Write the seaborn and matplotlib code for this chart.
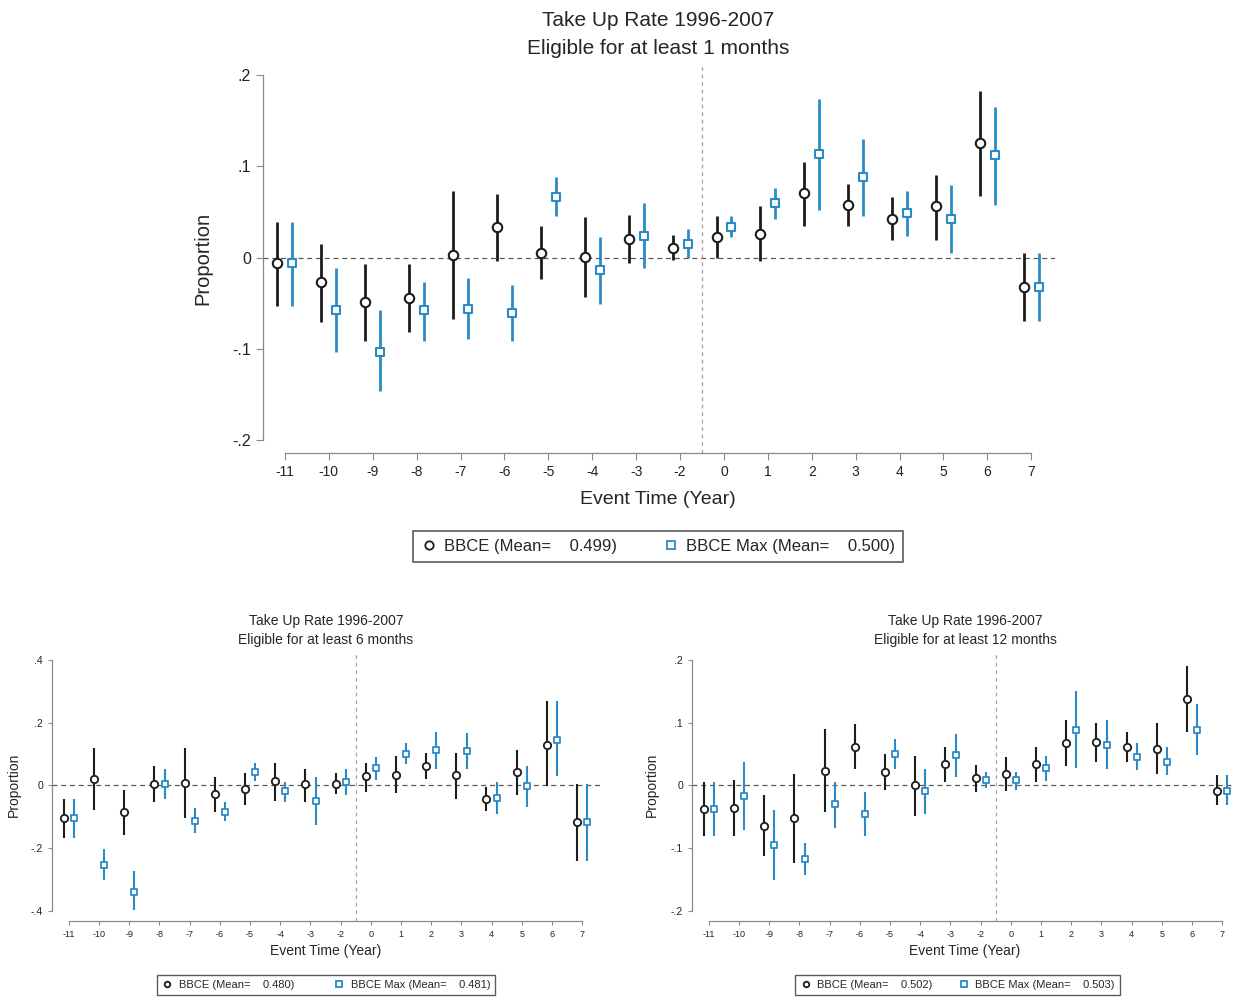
import numpy as np
import pandas as pd
import matplotlib
matplotlib.use("Agg")
import matplotlib.pyplot as plt
from matplotlib.lines import Line2D
import seaborn as sns

sns.set_theme(style="white")
plt.rcParams["font.family"] = ["Liberation Sans", "DejaVu Sans"]

# Event time (year -1 is the omitted reference year)
event_times = [-11, -10, -9, -8, -7, -6, -5, -4, -3, -2, 0, 1, 2, 3, 4, 5, 6, 7]

# Eligible for at least 1 month
bbce_1 = [-0.006, -0.027, -0.049, -0.044, 0.003, 0.033, 0.005, 0.001, 0.020, 0.011,
          0.023, 0.026, 0.071, 0.058, 0.042, 0.056, 0.125, -0.032]
bbce_1_lo = [-0.053, -0.071, -0.091, -0.082, -0.067, -0.004, -0.024, -0.043, -0.006, -0.003,
             0.000, -0.004, 0.035, 0.035, 0.019, 0.019, 0.067, -0.070]
bbce_1_hi = [0.039, 0.015, -0.007, -0.007, 0.073, 0.070, 0.035, 0.044, 0.047, 0.025,
             0.045, 0.057, 0.105, 0.081, 0.066, 0.091, 0.183, 0.005]
max_1 = [-0.006, -0.057, -0.103, -0.058, -0.056, -0.061, 0.066, -0.014, 0.024, 0.015,
         0.034, 0.060, 0.113, 0.088, 0.049, 0.042, 0.112, -0.032]
max_1_lo = [-0.053, -0.103, -0.146, -0.092, -0.089, -0.092, 0.045, -0.051, -0.012, -0.001,
            0.023, 0.042, 0.052, 0.046, 0.024, 0.005, 0.058, -0.070]
max_1_hi = [0.039, -0.011, -0.058, -0.027, -0.022, -0.030, 0.088, 0.022, 0.060, 0.031,
            0.046, 0.076, 0.174, 0.130, 0.073, 0.079, 0.165, 0.005]

# Eligible for at least 6 months
bbce_6 = [-0.104, 0.020, -0.085, 0.005, 0.007, -0.028, -0.012, 0.013, 0.004, 0.005,
          0.029, 0.034, 0.063, 0.032, -0.043, 0.043, 0.130, -0.117]
bbce_6_lo = [-0.168, -0.078, -0.159, -0.054, -0.104, -0.083, -0.062, -0.048, -0.053, -0.028,
             -0.022, -0.024, 0.020, -0.043, -0.080, -0.030, -0.003, -0.242]
bbce_6_hi = [-0.044, 0.119, -0.016, 0.063, 0.121, 0.026, 0.041, 0.073, 0.052, 0.039,
             0.073, 0.095, 0.105, 0.103, -0.005, 0.114, 0.268, 0.005]
max_6 = [-0.104, -0.253, -0.338, 0.005, -0.112, -0.083, 0.043, -0.019, -0.051, 0.011,
         0.055, 0.101, 0.112, 0.111, -0.040, -0.003, 0.146, -0.117]
max_6_lo = [-0.168, -0.301, -0.396, -0.044, -0.150, -0.113, 0.013, -0.054, -0.125, -0.030,
            0.018, 0.068, 0.052, 0.052, -0.090, -0.069, 0.029, -0.242]
max_6_hi = [-0.044, -0.203, -0.274, 0.054, -0.072, -0.054, 0.073, 0.011, 0.027, 0.052,
            0.092, 0.135, 0.169, 0.167, 0.010, 0.063, 0.268, 0.005]

# Eligible for at least 12 months
bbce_12 = [-0.038, -0.036, -0.064, -0.052, 0.023, 0.062, 0.022, 0.000, 0.035, 0.012,
           0.019, 0.034, 0.067, 0.069, 0.061, 0.058, 0.138, -0.008]
bbce_12_lo = [-0.081, -0.081, -0.113, -0.123, -0.043, 0.027, -0.007, -0.049, 0.005, -0.010,
              -0.008, 0.005, 0.031, 0.037, 0.037, 0.018, 0.086, -0.031]
bbce_12_hi = [0.005, 0.008, -0.015, 0.019, 0.090, 0.098, 0.050, 0.047, 0.062, 0.033,
              0.046, 0.062, 0.104, 0.099, 0.085, 0.099, 0.191, 0.016]
max_12 = [-0.038, -0.016, -0.095, -0.117, -0.030, -0.045, 0.050, -0.008, 0.049, 0.009,
          0.008, 0.028, 0.089, 0.064, 0.046, 0.038, 0.089, -0.008]
max_12_lo = [-0.081, -0.071, -0.150, -0.142, -0.068, -0.080, 0.027, -0.045, 0.014, -0.004,
             -0.007, 0.007, 0.028, 0.026, 0.025, 0.016, 0.048, -0.031]
max_12_hi = [0.005, 0.038, -0.039, -0.092, 0.005, -0.011, 0.074, 0.026, 0.082, 0.022,
             0.021, 0.047, 0.151, 0.104, 0.067, 0.061, 0.130, 0.016]

means = {"1": (0.499, 0.500), "6": (0.480, 0.481), "12": (0.502, 0.503)}

top_yticks = [-0.2, -0.1, 0.0, 0.1, 0.2]
top_ylabels = ["-.2", "-.1", "0", ".1", ".2"]
six_yticks = [-0.4, -0.2, 0.0, 0.2, 0.4]
six_ylabels = ["-.4", "-.2", "0", ".2", ".4"]
twelve_yticks = [-0.2, -0.1, 0.0, 0.1, 0.2]
twelve_ylabels = ["-.2", "-.1", "0", ".1", ".2"]

BLACK = "#1c1c1c"
BLUE = "#2a8bc6"
AXIS_GRAY = "#8a8a8a"


def make_frame(b, blo, bhi, m, mlo, mhi):
    n = len(event_times)
    pos = np.arange(n)
    rows = []
    for i in range(n):
        rows.append(dict(pos=pos[i] - 0.17, series="BBCE", est=b[i], lo=blo[i], hi=bhi[i]))
        rows.append(dict(pos=pos[i] + 0.17, series="BBCE Max", est=m[i], lo=mlo[i], hi=mhi[i]))
    return pd.DataFrame(rows)


def draw_panel(fig, rect, df, xlim, ylim, yticks, ylabels, sizes, vcolor):
    ax = fig.add_axes(rect)
    ax.set_facecolor("white")
    lw_err, ms, mew, tick_fs, lab_fs, ticklen = sizes
    ax.axhline(0, color="#5a5a5a", lw=0.9, ls=(0, (4, 3)), zorder=1)
    ax.axvline(9.5, color=vcolor, lw=0.9, ls=(0, (3, 3)), zorder=1)
    for series, col, mk, sz in [("BBCE", BLACK, "o", ms), ("BBCE Max", BLUE, "s", ms * 0.85)]:
        d = df[df.series == series]
        ax.vlines(d.pos, d.lo, d.hi, color=col, lw=lw_err, zorder=2)
        sns.scatterplot(data=d, x="pos", y="est", ax=ax, marker=mk, s=sz,
                        color="white", edgecolor=col, linewidth=mew, zorder=3, legend=False)
    ax.set_xlim(*xlim)
    ax.set_ylim(*ylim)
    ax.set_xticks(np.arange(len(event_times)))
    ax.set_xticklabels([str(t) for t in event_times], fontsize=tick_fs)
    ax.set_yticks(yticks)
    ax.set_yticklabels(ylabels, fontsize=lab_fs)
    ax.set_xlabel("")
    ax.set_ylabel("")
    for s in ["top", "right"]:
        ax.spines[s].set_visible(False)
    for s in ["left", "bottom"]:
        ax.spines[s].set_color(AXIS_GRAY)
        ax.spines[s].set_linewidth(0.9)
    ax.spines["left"].set_bounds(yticks[0], yticks[-1])
    ax.spines["bottom"].set_bounds(0, len(event_times) - 1)
    ax.tick_params(axis="both", which="both", direction="out", length=ticklen, width=0.8,
                   color=AXIS_GRAY, labelcolor="#222222", left=True, bottom=True)
    return ax


def legend_handles(ms):
    return [Line2D([], [], ls="none", marker="o", mfc="white", mec=BLACK, mew=1.3, ms=ms),
            Line2D([], [], ls="none", marker="s", mfc="white", mec=BLUE, mew=1.3, ms=ms)]


W, H = 1235, 998
fig = plt.figure(figsize=(W / 100, H / 100), dpi=100)
fig.patch.set_facecolor("white")


def px_rect(left, right, top, bottom):
    return [left / W, 1 - bottom / H, (right - left) / W, (bottom - top) / H]


# ---- Top panel: eligible for at least 1 month
df1 = make_frame(bbce_1, bbce_1_lo, bbce_1_hi, max_1, max_1_lo, max_1_hi)
ax1 = draw_panel(fig, px_rect(263, 1055, 65, 453), df1, (-0.5, 17.54), (-0.2142, 0.211),
                 top_yticks, top_ylabels, (2.0, 46, 1.5, 10, 11.5, 5), "#a8a0a0")
fig.text(658 / W, 1 - 20 / H, "Take Up Rate 1996-2007", ha="center", va="center", fontsize=15)
fig.text(658 / W, 1 - 48 / H, "Eligible for at least 1 months", ha="center", va="center", fontsize=15)
fig.text(658 / W, 1 - 500 / H, "Event Time (Year)", ha="center", va="center", fontsize=14)
fig.text(203 / W, 1 - 258 / H, "Proportion", ha="center", va="center", rotation=90, fontsize=14.5)
leg = fig.legend(legend_handles(6),
                 [f"BBCE (Mean=    {means['1'][0]:.3f})", f"BBCE Max (Mean=    {means['1'][1]:.3f})"],
                 loc="center", bbox_to_anchor=(658 / W, 1 - 546.5 / H), ncol=2, fontsize=12,
                 frameon=True, fancybox=False, edgecolor="#333333", handletextpad=0.4,
                 columnspacing=2.7, handlelength=1.0, borderpad=0.5)
leg.get_frame().set_linewidth(1.2)

# ---- Bottom-left panel: eligible for at least 6 months
df6 = make_frame(bbce_6, bbce_6_lo, bbce_6_hi, max_6, max_6_lo, max_6_hi)
ax6 = draw_panel(fig, px_rect(52, 600, 652, 921), df6, (-0.56, 17.59), (-0.432, 0.4255),
                 six_yticks, six_ylabels, (1.5, 28, 1.3, 6.5, 7.5, 3), "#b49c9c")
fig.text(326 / W, 1 - 621 / H, "Take Up Rate 1996-2007", ha="center", va="center", fontsize=10)
fig.text(326 / W, 1 - 640 / H, "Eligible for at least 6 months", ha="center", va="center", fontsize=10)
fig.text(326 / W, 1 - 951 / H, "Event Time (Year)", ha="center", va="center", fontsize=10)
fig.text(14 / W, 1 - 785 / H, "Proportion", ha="center", va="center", rotation=90, fontsize=10)
leg6 = fig.legend(legend_handles(4),
                  [f"BBCE (Mean=    {means['6'][0]:.3f})", f"BBCE Max (Mean=    {means['6'][1]:.3f})"],
                  loc="center", bbox_to_anchor=(326 / W, 1 - 985 / H), ncol=2, fontsize=8,
                  frameon=True, fancybox=False, edgecolor="#333333", handletextpad=0.5,
                  columnspacing=3.6, handlelength=1.0, borderpad=0.45)
leg6.get_frame().set_linewidth(1.0)

# ---- Bottom-right panel: eligible for at least 12 months
df12 = make_frame(bbce_12, bbce_12_lo, bbce_12_hi, max_12, max_12_lo, max_12_hi)
ax12 = draw_panel(fig, px_rect(692, 1234, 652, 921), df12, (-0.56, 17.39), (-0.216, 0.2128),
                  twelve_yticks, twelve_ylabels, (1.5, 28, 1.3, 6.5, 7.5, 3), "#b49c9c")
fig.text(965 / W, 1 - 621 / H, "Take Up Rate 1996-2007", ha="center", va="center", fontsize=10)
fig.text(965 / W, 1 - 640 / H, "Eligible for at least 12 months", ha="center", va="center", fontsize=10)
fig.text(965 / W, 1 - 951 / H, "Event Time (Year)", ha="center", va="center", fontsize=10)
fig.text(652 / W, 1 - 785 / H, "Proportion", ha="center", va="center", rotation=90, fontsize=10)
leg12 = fig.legend(legend_handles(4),
                   [f"BBCE (Mean=    {means['12'][0]:.3f})", f"BBCE Max (Mean=    {means['12'][1]:.3f})"],
                   loc="center", bbox_to_anchor=(957.5 / W, 1 - 985 / H), ncol=2, fontsize=8,
                   frameon=True, fancybox=False, edgecolor="#333333", handletextpad=0.5,
                   columnspacing=2.4, handlelength=1.0, borderpad=0.45)
leg12.get_frame().set_linewidth(1.0)

fig.savefig("out.png", dpi=100, facecolor="white")
